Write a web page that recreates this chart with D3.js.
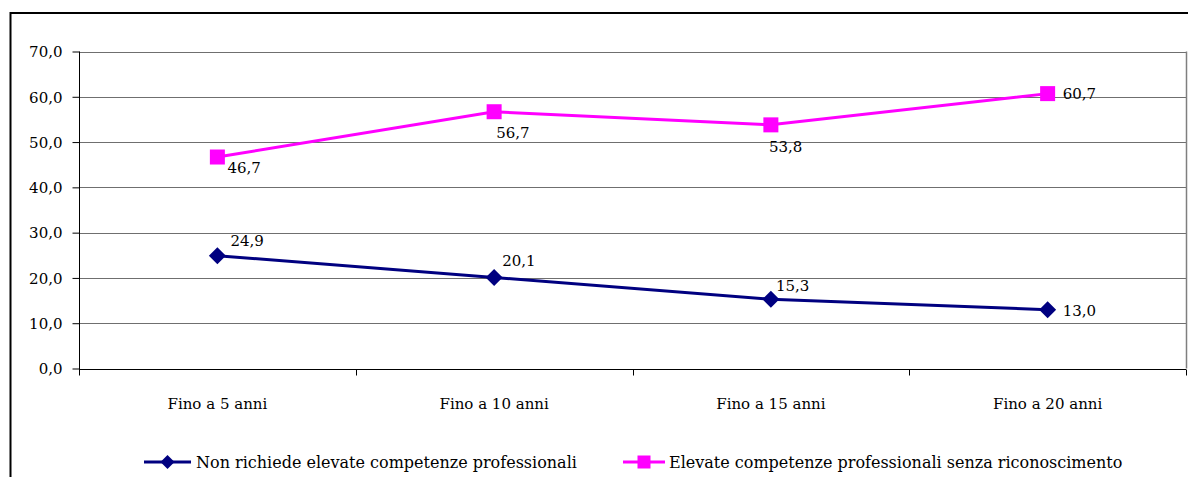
<!DOCTYPE html>
<html>
<head>
<meta charset="utf-8">
<script src="https://cdn.jsdelivr.net/npm/d3@7"></script>
<style>
  html, body { margin: 0; padding: 0; background: #fff; }
  svg { display: block; }
  text { font-family: "DejaVu Serif", "Liberation Serif", serif; fill: #000; }
</style>
</head>
<body>
<svg id="chart" width="1188" height="477"></svg>
<script>
// Categories (x axis)
const categories = ["Fino a 5 anni", "Fino a 10 anni", "Fino a 15 anni", "Fino a 20 anni"];

// Series values (%)
const seriesNames = [
  "Non richiede elevate competenze professionali",
  "Elevate competenze professionali senza riconoscimento"
];
const valuesNonRichiede = [24.9, 20.1, 15.3, 13.0];
const valuesElevate = [46.7, 56.7, 53.8, 60.7];

// Y axis ticks
const yTicks = [0, 10, 20, 30, 40, 50, 60, 70];

// Data label placement relative to each marker (text start, baseline)
const labelOffsetsNonRichiede = [[13, -10], [8, -11], [5, -8], [15, 6]];
const labelOffsetsElevate = [[10, 16], [2, 26], [-2, 27], [15, 5]];

const fmt = v => d3.format(".1f")(v).replace(".", ",");

const svg = d3.select("#chart");

// Outer chart frame
svg.append("rect")
  .attr("x", 10.5).attr("y", 13)
  .attr("width", 1200).attr("height", 500)
  .attr("fill", "none").attr("stroke", "#000").attr("stroke-width", 2);

const plot = { left: 79, right: 1186, top: 51.5, bottom: 368.5 };

const x = d3.scaleBand().domain(categories).range([plot.left, plot.right]).padding(0);
const y = d3.scaleLinear().domain([0, 70]).range([plot.bottom, plot.top]);

// Horizontal gridlines
svg.append("g")
  .selectAll("line")
  .data(yTicks.filter(t => t > 0))
  .join("line")
  .attr("x1", plot.left).attr("x2", plot.right)
  .attr("y1", d => Math.round(y(d)) + 0.5).attr("y2", d => Math.round(y(d)) + 0.5)
  .attr("stroke", "#6f6f6f").attr("stroke-width", 1.2);

// Right border of the plot area
svg.append("line")
  .attr("x1", plot.right + 0.5).attr("x2", plot.right + 0.5)
  .attr("y1", y(70)).attr("y2", y(0))
  .attr("stroke", "#7f7f7f").attr("stroke-width", 1.5);

// Y axis
const yAxis = d3.axisLeft(y).tickValues(yTicks).tickSize(7).tickPadding(10).tickFormat(fmt);
const gy = svg.append("g")
  .attr("transform", `translate(${plot.left + 0.5},0)`)
  .call(yAxis);
gy.select(".domain").attr("stroke", "#000").attr("d", `M0,${y(70)}V${y(0) + 6}`);
gy.selectAll(".tick line").attr("stroke", "#000");
gy.selectAll(".tick text").attr("font-size", 15).attr("font-family", "DejaVu Serif").attr("dy", "0.35em");

// X axis with tick marks at category boundaries
const gx = svg.append("g")
  .attr("transform", `translate(0,${Math.round(y(0)) + 0.5})`);
gx.append("line")
  .attr("x1", plot.left).attr("x2", plot.right)
  .attr("stroke", "#000").attr("stroke-width", 1);
const boundaries = categories.map(c => x(c)).concat([x(categories[categories.length - 1]) + x.bandwidth()]);
gx.selectAll("line.tk")
  .data(boundaries)
  .join("line")
  .attr("class", "tk")
  .attr("x1", d => Math.round(d) + 0.5).attr("x2", d => Math.round(d) + 0.5)
  .attr("y1", 0).attr("y2", 6)
  .attr("stroke", "#000");
gx.selectAll("text")
  .data(categories)
  .join("text")
  .attr("x", d => x(d) + x.bandwidth() / 2)
  .attr("y", 39)
  .attr("text-anchor", "middle")
  .attr("font-size", 15)
  .text(d => d);

const cx = c => x(c) + x.bandwidth() / 2;

const series = [
  { name: seriesNames[0], values: valuesNonRichiede, offsets: labelOffsetsNonRichiede, color: "#000080", marker: "diamond" },
  { name: seriesNames[1], values: valuesElevate, offsets: labelOffsetsElevate, color: "#ff00ff", marker: "square" }
];

const line = d3.line().x((d, i) => cx(categories[i])).y(d => y(d));

function drawMarker(g, type, color) {
  if (type === "diamond") {
    g.append("path").attr("d", "M0,-8.5L8.5,0L0,8.5L-8.5,0Z").attr("fill", color);
  } else {
    g.append("rect").attr("x", -7.5).attr("y", -7.5).attr("width", 15).attr("height", 15).attr("fill", color);
  }
}

series.forEach(s => {
  svg.append("path")
    .datum(s.values)
    .attr("d", line)
    .attr("fill", "none")
    .attr("stroke", s.color)
    .attr("stroke-width", 3);

  s.values.forEach((v, i) => {
    const g = svg.append("g").attr("transform", `translate(${cx(categories[i])},${y(v)})`);
    drawMarker(g, s.marker, s.color);
  });

  svg.append("g")
    .selectAll("text")
    .data(s.values)
    .join("text")
    .attr("x", (d, i) => cx(categories[i]) + s.offsets[i][0])
    .attr("y", (d, i) => y(d) + s.offsets[i][1])
    .attr("font-size", 15)
    .text(d => fmt(d));
});

// Legend
const legendItems = [
  { s: series[0], x1: 144, x2: 191, tx: 196 },
  { s: series[1], x1: 623, x2: 665, tx: 669 }
];
const legendY = 462;
legendItems.forEach(it => {
  svg.append("line")
    .attr("x1", it.x1).attr("x2", it.x2)
    .attr("y1", legendY).attr("y2", legendY)
    .attr("stroke", it.s.color).attr("stroke-width", 3);
  const g = svg.append("g").attr("transform", `translate(${(it.x1 + it.x2) / 2},${legendY})`);
  if (it.s.marker === "diamond") {
    g.append("path").attr("d", "M0,-7L7,0L0,7L-7,0Z").attr("fill", it.s.color);
  } else {
    g.append("rect").attr("x", -6.5).attr("y", -6.5).attr("width", 13).attr("height", 13).attr("fill", it.s.color);
  }
  svg.append("text")
    .attr("x", it.tx).attr("y", legendY + 6)
    .attr("font-size", 16)
    .text(it.s.name);
});
</script>
</body>
</html>
